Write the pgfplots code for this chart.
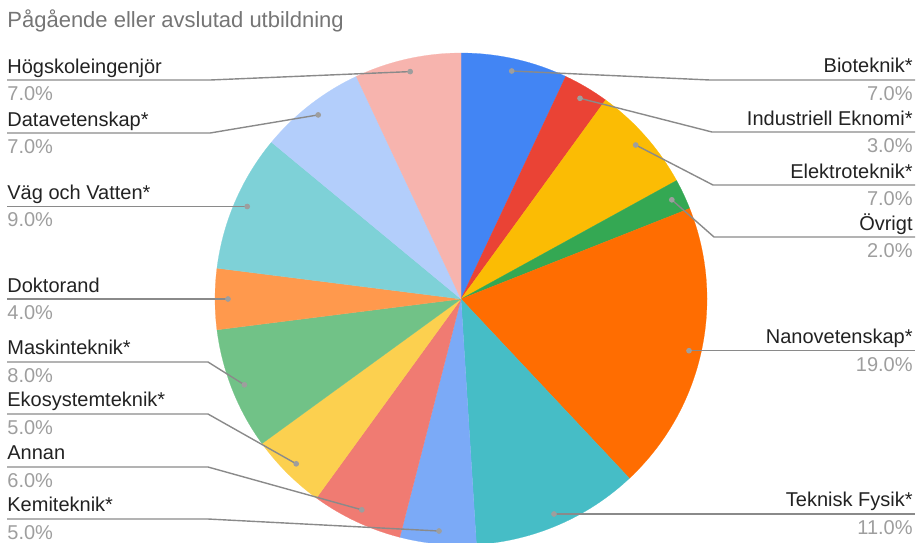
\documentclass[border=0pt]{standalone}
\usepackage{pgfplots}
\usepackage{pgfplotstable}
\pgfplotsset{compat=1.18}
\usepackage{fontspec}
\setmainfont{Liberation Sans}

\definecolor{c0}{HTML}{4285F4}
\definecolor{c1}{HTML}{EA4335}
\definecolor{c2}{HTML}{FBBC04}
\definecolor{c3}{HTML}{34A853}
\definecolor{c4}{HTML}{FF6D01}
\definecolor{c5}{HTML}{46BDC6}
\definecolor{c6}{HTML}{7BAAF7}
\definecolor{c7}{HTML}{F07B72}
\definecolor{c8}{HTML}{FCD04F}
\definecolor{c9}{HTML}{71C287}
\definecolor{c10}{HTML}{FF994D}
\definecolor{c11}{HTML}{7ED1D7}
\definecolor{c12}{HTML}{B3CEFB}
\definecolor{c13}{HTML}{F7B4AE}
\definecolor{titlegray}{HTML}{757575}
\definecolor{pctgray}{HTML}{9E9E9E}
\definecolor{namecol}{HTML}{222222}
\definecolor{leadcol}{HTML}{8A8A8A}
\definecolor{dotcol}{HTML}{9E9E9E}

\pgfplotstableread[col sep=comma]{
name,value
Bioteknik*,7
Industriell Eknomi*,3
Elektroteknik*,7
Övrigt,2
Nanovetenskap*,19
Teknisk Fysik*,11
Kemiteknik*,5
Annan,6
Ekosystemteknik*,5
Maskinteknik*,8
Doktorand,4
Väg och Vatten*,9
Datavetenskap*,7
Högskoleingenjör,7
}\piedata

\begin{document}
\begin{tikzpicture}
\gdef\cumsum{0}
\foreach \i in {0,...,13}{%
  \pgfplotstablegetelem{\i}{value}\of\piedata
  \pgfmathsetmacro\sa{90-3.6*\cumsum}%
  \pgfmathsetmacro\newcum{\cumsum+\pgfplotsretval}%
  \pgfmathsetmacro\sb{90-3.6*\newcum}%
  \expandafter\xdef\csname sa\i\endcsname{\sa}%
  \expandafter\xdef\csname sb\i\endcsname{\sb}%
  \xdef\cumsum{\newcum}%
}
\begin{axis}[
  x=0.5pt, y=0.5pt, y dir=reverse,
  xmin=0, xmax=919, ymin=0, ymax=542,
  scale only axis, hide axis, clip=true,
  name=pie,
]
\pgfplotsinvokeforeach{0,...,13}{%
  \fill[c#1, draw=c#1, line width=0.1pt] (axis cs:461,299) -- ++(\csname sa#1\endcsname:123pt)
    arc[start angle=\csname sa#1\endcsname, end angle=\csname sb#1\endcsname, radius=123pt] -- cycle;
}
% leader lines, right side
\addplot[leadcol, line width=0.7pt, no marks] coordinates {(511.7,71) (710,80) (915,80)};
\addplot[leadcol, line width=0.7pt, no marks] coordinates {(580,98.3) (712,132) (915,132)};
\addplot[leadcol, line width=0.7pt, no marks] coordinates {(635.7,145) (713,185) (915,185)};
\addplot[leadcol, line width=0.7pt, no marks] coordinates {(671.8,199.8) (714,237) (915,237)};
\addplot[leadcol, line width=0.7pt, no marks] coordinates {(689,350.7) (915,350.7)};
\addplot[leadcol, line width=0.7pt, no marks] coordinates {(554,514) (915,514)};
% leader lines, left side
\addplot[leadcol, line width=0.7pt, no marks] coordinates {(410.2,71.6) (210,80) (7,80)};
\addplot[leadcol, line width=0.7pt, no marks] coordinates {(318.2,114.9) (210,133) (7,133)};
\addplot[leadcol, line width=0.7pt, no marks] coordinates {(247.2,206.5) (7,206.5)};
\addplot[leadcol, line width=0.7pt, no marks] coordinates {(228,299) (7,299)};
\addplot[leadcol, line width=0.7pt, no marks] coordinates {(244.4,384.8) (208,362) (7,362)};
\addplot[leadcol, line width=0.7pt, no marks] coordinates {(296.2,463.8) (208,414) (7,414)};
\addplot[leadcol, line width=0.7pt, no marks] coordinates {(361.8,509.8) (208,467) (7,467)};
\addplot[leadcol, line width=0.7pt, no marks] coordinates {(439,531) (208,519) (7,519)};
% dots
\addplot[only marks, mark=*, mark size=1.2pt, mark options={draw=dotcol, fill=dotcol}] coordinates {
(511.7,71) (580,98.3) (635.7,145) (671.8,199.8) (689,350.7) (554,514)
(439,531) (361.8,509.8) (296.2,463.8) (244.4,384.8) (228,299) (247.2,206.5) (318.2,114.9) (410.2,71.6)};
% title
\node[anchor=base west, font=\fontsize{11}{13}\selectfont, text=titlegray, inner sep=0pt] at (axis cs:7,27) {Pågående eller avslutad utbildning};
% labels right
\begin{scope}[every node/.style={inner sep=0pt, font=\fontsize{10}{12}\selectfont}]
\node[anchor=base east, text=namecol] at (axis cs:913,72.5) {Bioteknik*};
\node[anchor=base east, text=pctgray] at (axis cs:913,100) {7.0\%};
\node[anchor=base east, text=namecol] at (axis cs:913,125) {Industriell Eknomi*};
\node[anchor=base east, text=pctgray] at (axis cs:913,152) {3.0\%};
\node[anchor=base east, text=namecol] at (axis cs:913,178) {Elektroteknik*};
\node[anchor=base east, text=pctgray] at (axis cs:913,205) {7.0\%};
\node[anchor=base east, text=namecol] at (axis cs:913,230) {Övrigt};
\node[anchor=base east, text=pctgray] at (axis cs:913,257) {2.0\%};
\node[anchor=base east, text=namecol] at (axis cs:913,343.5) {Nanovetenskap*};
\node[anchor=base east, text=pctgray] at (axis cs:913,371) {19.0\%};
\node[anchor=base east, text=namecol] at (axis cs:913,506.5) {Teknisk Fysik*};
\node[anchor=base east, text=pctgray] at (axis cs:913,534) {11.0\%};
% labels left
\node[anchor=base west, text=namecol] at (axis cs:7,73) {Högskoleingenjör};
\node[anchor=base west, text=pctgray] at (axis cs:7,100) {7.0\%};
\node[anchor=base west, text=namecol] at (axis cs:7,126) {Datavetenskap*};
\node[anchor=base west, text=pctgray] at (axis cs:7,153) {7.0\%};
\node[anchor=base west, text=namecol] at (axis cs:7,199) {Väg och Vatten*};
\node[anchor=base west, text=pctgray] at (axis cs:7,226.5) {9.0\%};
\node[anchor=base west, text=namecol] at (axis cs:7,292) {Doktorand};
\node[anchor=base west, text=pctgray] at (axis cs:7,319.5) {4.0\%};
\node[anchor=base west, text=namecol] at (axis cs:7,354.5) {Maskinteknik*};
\node[anchor=base west, text=pctgray] at (axis cs:7,382) {8.0\%};
\node[anchor=base west, text=namecol] at (axis cs:7,406.5) {Ekosystemteknik*};
\node[anchor=base west, text=pctgray] at (axis cs:7,434) {5.0\%};
\node[anchor=base west, text=namecol] at (axis cs:7,459.5) {Annan};
\node[anchor=base west, text=pctgray] at (axis cs:7,487) {6.0\%};
\node[anchor=base west, text=namecol] at (axis cs:7,511.5) {Kemiteknik*};
\node[anchor=base west, text=pctgray] at (axis cs:7,539) {5.0\%};
\end{scope}
\end{axis}
\pgfresetboundingbox
\useasboundingbox (pie.south west) rectangle (pie.north east);
\end{tikzpicture}
\end{document}
